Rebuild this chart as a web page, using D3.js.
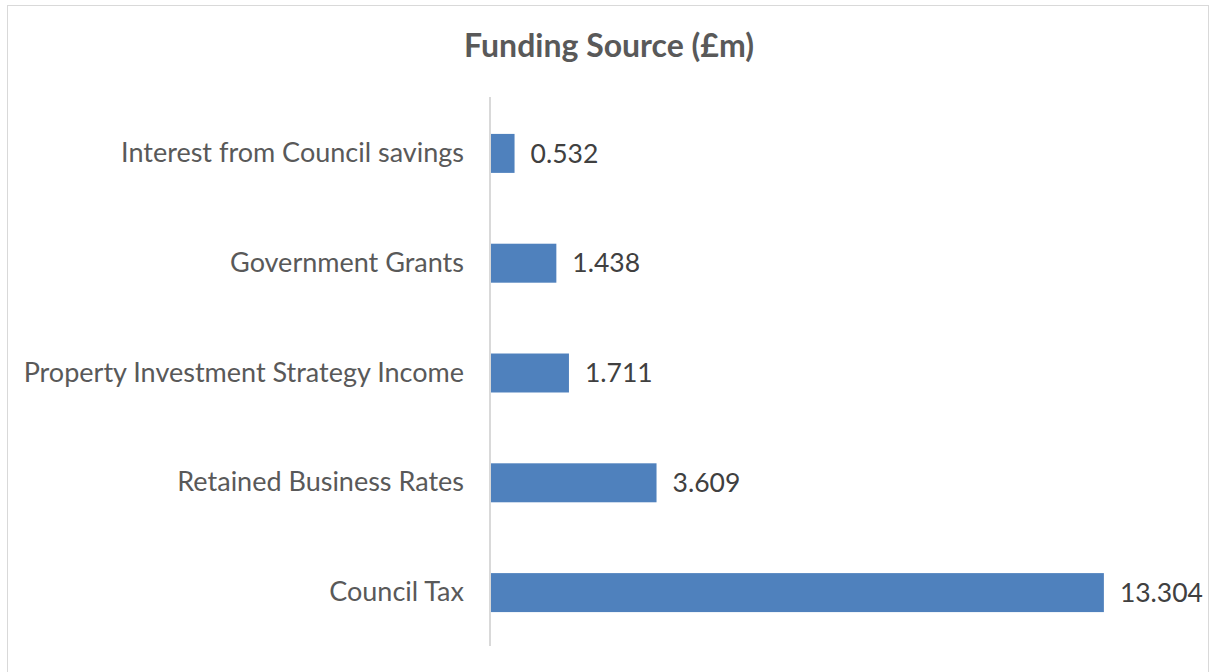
<!DOCTYPE html>
<html>
<head>
<meta charset="utf-8">
<script src="https://cdn.jsdelivr.net/npm/d3@7/dist/d3.min.js"></script>
<style>
  html, body { margin: 0; padding: 0; background: #fff; }
  svg { display: block; font-family: Lato, "Open Sans", sans-serif; }
</style>
</head>
<body>
<svg id="chart" width="1211" height="672"></svg>
<script>
// Funding sources, listed top to bottom
const categories = [
  "Interest from Council savings",
  "Government Grants",
  "Property Investment Strategy Income",
  "Retained Business Rates",
  "Council Tax"
];
const values = [0.532, 1.438, 1.711, 3.609, 13.304];
const valueLabels = ["0.532", "1.438", "1.711", "3.609", "13.304"];
const xMax = 14;

const svg = d3.select("#chart");
const W = 1211, H = 672;

// outer chart frame
svg.append("rect")
  .attr("x", 7.5).attr("y", 5.5)
  .attr("width", W - 10).attr("height", H - 4)
  .attr("fill", "#fff").attr("stroke", "#d9d9d9").attr("stroke-width", 1);

const plot = { left: 490, right: 1136, top: 97, bottom: 646 };

const x = d3.scaleLinear().domain([0, xMax]).range([plot.left, plot.right]);
const y = d3.scaleBand().domain(categories).range([plot.top + 1.5, plot.bottom + 1.5]).paddingInner(0.645).paddingOuter(0.3225);

svg.append("text")
  .attr("x", 609).attr("y", 57)
  .attr("text-anchor", "middle")
  .attr("font-size", 32).attr("font-weight", "bold")
  .attr("fill", "#595959")
  .text("Funding Source (£m)");

svg.selectAll("rect.bar")
  .data(categories)
  .join("rect")
  .attr("class", "bar")
  .attr("x", x(0))
  .attr("y", d => y(d))
  .attr("width", (d, i) => x(values[i]) - x(0))
  .attr("height", y.bandwidth())
  .attr("fill", "#4f81bd");

// category axis
const yAxis = svg.append("g")
  .attr("transform", `translate(${plot.left},0)`)
  .call(d3.axisLeft(y).tickSize(0).tickPadding(26).tickSizeOuter(0));
yAxis.select(".domain")
  .attr("d", `M0,${plot.top}V${plot.bottom}`)
  .attr("stroke", "#d9d9d9").attr("stroke-width", 2);
yAxis.selectAll("text")
  .attr("font-size", 27).attr("fill", "#595959")
  .attr("font-family", "Lato, sans-serif");

svg.selectAll("text.val")
  .data(categories)
  .join("text")
  .attr("class", "val")
  .attr("x", (d, i) => x(values[i]) + 16)
  .attr("y", d => y(d) + y.bandwidth() / 2)
  .attr("dy", "0.35em")
  .attr("font-size", 26.5).attr("fill", "#404040")
  .text((d, i) => valueLabels[i]);
</script>
</body>
</html>
